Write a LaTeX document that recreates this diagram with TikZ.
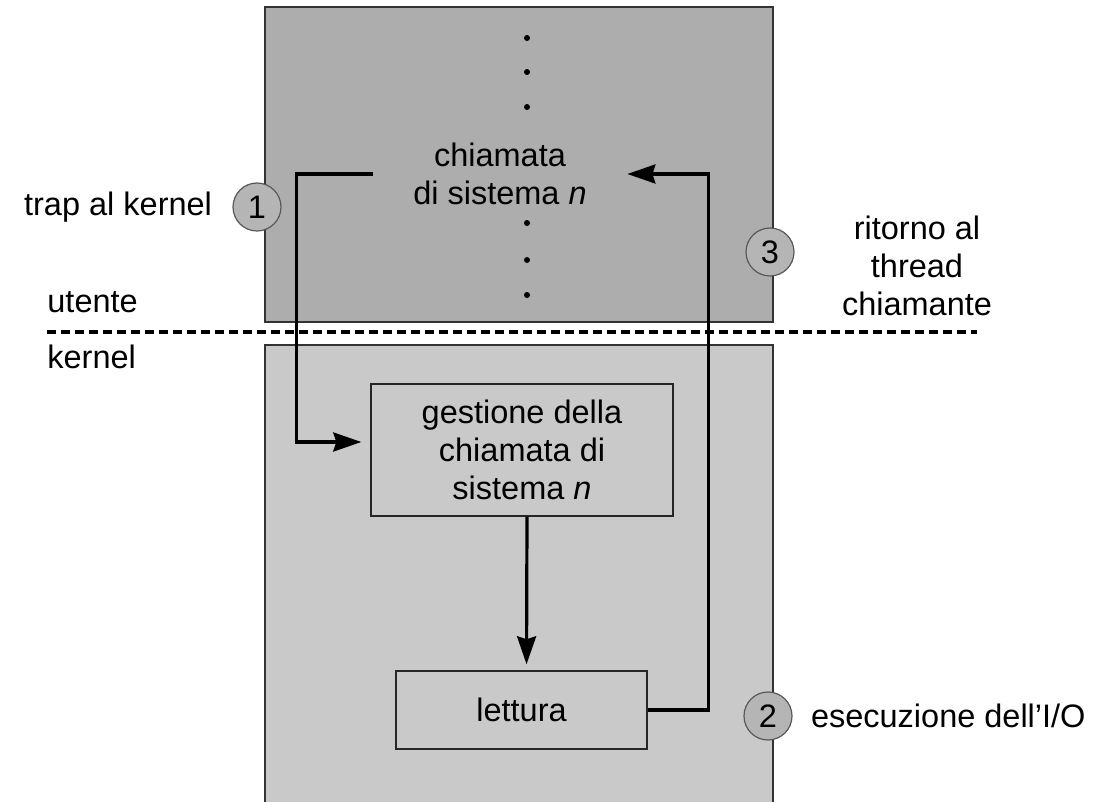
\documentclass[tikz,border=0pt]{standalone}
\usepackage{fontspec}
\setmainfont{Liberation Sans}
\usetikzlibrary{arrows.meta,positioning}
\definecolor{userfill}{gray}{0.68}
\definecolor{kernfill}{gray}{0.79}
\definecolor{stepfill}{gray}{0.71}
\tikzset{
  area/.style={draw=black!80, line width=0.7pt, minimum width=254pt},
  userarea/.style={area, fill=userfill, minimum height=157.5pt},
  kernarea/.style={area, fill=kernfill, minimum height=233.5pt},
  block/.style={draw=black!85, line width=0.7pt, align=center, fill=kernfill, inner sep=0pt},
  stepno/.style={circle, draw=black!65, line width=0.6pt, fill=stepfill,
    minimum size=24pt, inner sep=0pt},
  lbl/.style={align=center, inner sep=0pt},
  vdot/.style={circle, fill=black, inner sep=0pt, minimum size=3pt},
  arr/.style={-{Stealth[length=14pt,width=9.5pt,inset=1.5pt]}, line width=1.6pt},
  splitline/.style={line width=1.8pt, dash pattern=on 4.5pt off 2.5pt}
}

\begin{document}
\begin{tikzpicture}[x=0.5pt, y=-0.5pt, font=\fontsize{16.25}{19}\selectfont]
  \useasboundingbox (0,0) rectangle (1115,802);

  \node[userarea] (user) at (519,164.5) {};
  \node[kernarea] (kern) at (519,578.5) {};

  \foreach \y in {38,72,107,223,260,295}
    \node[vdot] (dot\y) at (527,\y) {};

  \node[lbl, minimum width=127pt] (call) at (500,174) {chiamata\\di sistema \textit{n}};
  \node[block, minimum width=151pt, minimum height=66pt] (gest) at (522,450) {gestione della\\chiamata di\\sistema \textit{n}};
  \node[block, minimum width=125.5pt, minimum height=39pt] (read) at (521.5,710) {lettura};

  \draw[arr, shorten >=4.5pt] (call.west) -- ++(-76,0) |- ([yshift=4pt]gest.west);
  \draw[arr, shorten >=3pt] ([xshift=2.5pt]gest.south) -- ([xshift=2.5pt]read.north);
  \draw[arr] (read.east) -- ++(61,0) |- (call.east);

  \draw[splitline] (47,332) -- (977,332);
  \node[lbl, anchor=west] (utente) at (47,302) {utente};
  \node[lbl, anchor=west] (kernel) at (47,357) {kernel};

  \node[stepno] (one) at (257,207) {1};
  \node[stepno] (three) at (770,252) {3};
  \node[stepno] (two) at (768,716) {2};

  \node[lbl, left=10pt of one] (trap) {trap al kernel};
  \node[lbl] (back) at (917,266) {ritorno al\\thread\\chiamante};
  \node[lbl, right=9pt of two] (io) {esecuzione dell'I/O};
\end{tikzpicture}
\end{document}
